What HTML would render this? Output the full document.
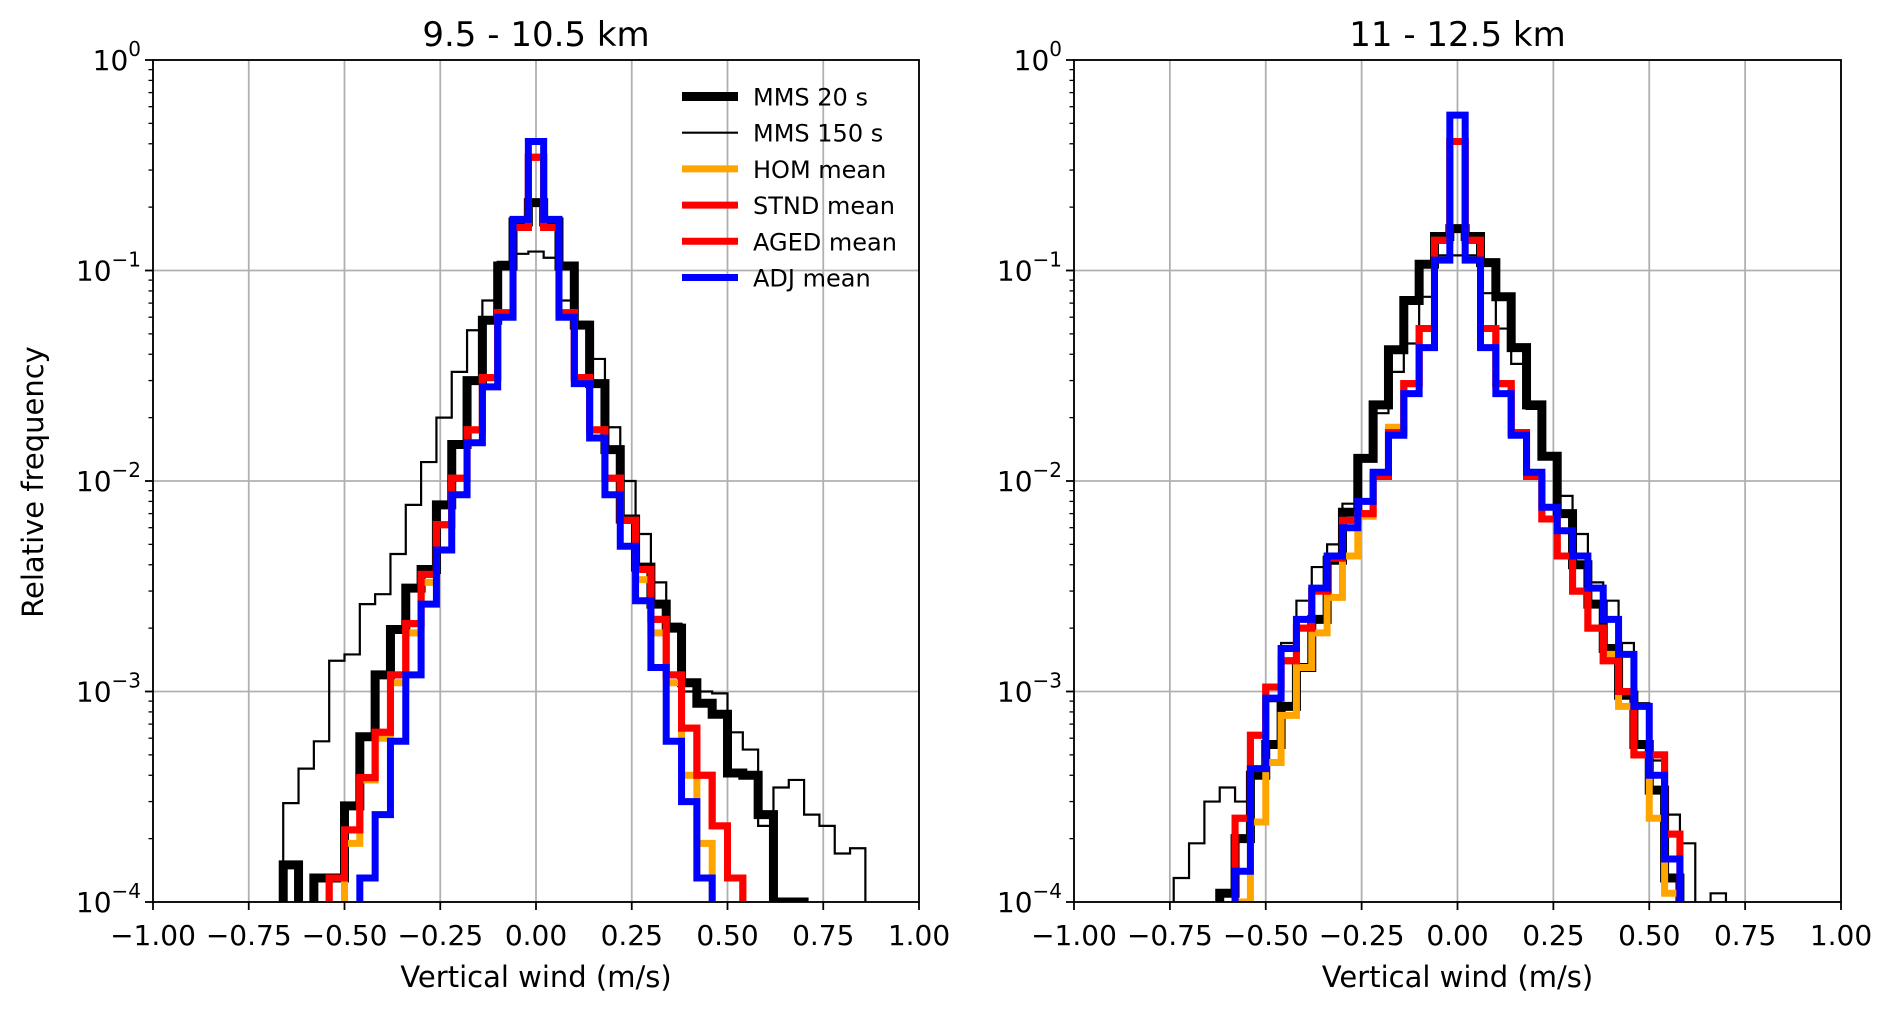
<!DOCTYPE html>
<html><head><meta charset="utf-8">
<style>
html,body{margin:0;padding:0;background:#fff;}
svg{display:block;}
text{font-family:"DejaVu Sans","Liberation Sans",sans-serif;fill:#000;}
</style></head>
<body>
<svg id="fig" width="1892" height="1012" viewBox="0 0 1892 1012" xmlns="http://www.w3.org/2000/svg"></svg>
<script>
// bin offsets k = -22..22, bin width 0.04 centered on 0.04*k
const binWidth = 0.04;
const binIndex = [];
for (let k = -22; k <= 22; k++) binIndex.push(k);
const xTicks = [-1, -0.75, -0.5, -0.25, 0, 0.25, 0.5, 0.75, 1];
const yTickExps = [0, -1, -2, -3, -4];
const seriesNames = ["MMS 20 s","MMS 150 s","HOM mean","STND mean","AGED mean","ADJ mean"];
const panelTitles = ["9.5 - 10.5 km","11 - 12.5 km"];

function sparse(obj){ return binIndex.map(k => (obj[k]!==undefined ? obj[k] : 0)); }

// ---------- Left panel (9.5 - 10.5 km) ----------
const L_mms20 = sparse({"-16":0.00015,"-14":0.00013,"-13":0.00013,"-12":0.000286,"-11":0.00061,"-10":0.0012,"-9":0.00197,"-8":0.0031,"-7":0.0038,"-6":0.0077,"-5":0.0149,"-4":0.030,"-3":0.058,"-2":0.105,"-1":0.17,"0":0.21,"1":0.17,"2":0.105,"3":0.055,"4":0.029,"5":0.0141,"6":0.0066,"7":0.0039,"8":0.0026,"9":0.002,"10":0.0011,"11":0.00088,"12":0.00078,"13":0.00041,"14":0.0004,"15":0.00026,"16":0.0001,"17":0.0001});
const L_mms150 = sparse({"-16":0.000295,"-15":0.00043,"-14":0.00058,"-13":0.0014,"-12":0.0015,"-11":0.0026,"-10":0.0029,"-9":0.0045,"-8":0.0077,"-7":0.0123,"-6":0.020,"-5":0.033,"-4":0.052,"-3":0.072,"-2":0.11,"-1":0.12,"0":0.123,"1":0.115,"2":0.072,"3":0.057,"4":0.038,"5":0.018,"6":0.01,"7":0.0056,"8":0.0033,"9":0.0021,"10":0.001,"11":0.001,"12":0.00098,"13":0.00064,"14":0.00053,"15":0.00023,"16":0.00035,"17":0.00038,"18":0.00026,"19":0.00023,"20":0.00017,"21":0.00018});
const L_hom = sparse({"-12":0.00019,"-11":0.00038,"-10":0.0006,"-9":0.0011,"-8":0.0019,"-7":0.0033,"-6":0.0062,"-5":0.0103,"-4":0.0175,"-3":0.031,"-2":0.063,"-1":0.16,"0":0.345,"1":0.16,"2":0.063,"3":0.031,"4":0.0175,"5":0.0103,"6":0.0065,"7":0.0034,"8":0.0019,"9":0.0011,"10":0.0004,"11":0.00019});
const L_stnd = sparse({"-13":0.00013,"-12":0.00022,"-11":0.00039,"-10":0.00064,"-9":0.0012,"-8":0.0021,"-7":0.0036,"-6":0.0062,"-5":0.0103,"-4":0.0175,"-3":0.031,"-2":0.063,"-1":0.16,"0":0.345,"1":0.16,"2":0.063,"3":0.031,"4":0.0175,"5":0.0103,"6":0.0065,"7":0.0038,"8":0.0022,"9":0.0012,"10":0.00067,"11":0.0004,"12":0.00023,"13":0.00013});
const L_aged = sparse({"-13":0.00013,"-12":0.00022,"-11":0.00039,"-10":0.00064,"-9":0.0012,"-8":0.0021,"-7":0.0036,"-6":0.0062,"-5":0.0103,"-4":0.0175,"-3":0.031,"-2":0.063,"-1":0.16,"0":0.345,"1":0.16,"2":0.063,"3":0.031,"4":0.0175,"5":0.0103,"6":0.0065,"7":0.0038,"8":0.0022,"9":0.0012,"10":0.00067,"11":0.0004,"12":0.00023,"13":0.00013});
const L_adj = sparse({"-11":0.00013,"-10":0.00026,"-9":0.00058,"-8":0.0012,"-7":0.0026,"-6":0.0047,"-5":0.0086,"-4":0.0152,"-3":0.028,"-2":0.06,"-1":0.175,"0":0.41,"1":0.175,"2":0.06,"3":0.029,"4":0.016,"5":0.0086,"6":0.0049,"7":0.0027,"8":0.0013,"9":0.00058,"10":0.0003,"11":0.00013});

// ---------- Right panel (11 - 12.5 km) ----------
const R_mms20 = sparse({"-15":0.00011,"-14":0.0002,"-13":0.0004,"-12":0.00056,"-11":0.00085,"-10":0.0013,"-9":0.0022,"-8":0.0042,"-7":0.0071,"-6":0.0128,"-5":0.023,"-4":0.042,"-3":0.072,"-2":0.107,"-1":0.145,"0":0.158,"1":0.145,"2":0.109,"3":0.075,"4":0.043,"5":0.023,"6":0.0131,"7":0.007,"8":0.004,"9":0.0026,"10":0.0016,"11":0.00096,"12":0.00056,"13":0.00034,"14":0.00013});
const R_mms150 = sparse({"-18":0.00013,"-17":0.00019,"-16":0.0003,"-15":0.00035,"-14":0.0003,"-13":0.00043,"-12":0.0009,"-11":0.0017,"-10":0.0027,"-9":0.0039,"-8":0.005,"-7":0.0078,"-6":0.0128,"-5":0.021,"-4":0.033,"-3":0.045,"-2":0.075,"-1":0.118,"0":0.118,"1":0.118,"2":0.078,"3":0.053,"4":0.036,"5":0.022,"6":0.0133,"7":0.0085,"8":0.0056,"9":0.0033,"10":0.0027,"11":0.0017,"12":0.00088,"13":0.00047,"14":0.00026,"15":0.00019,"17":0.00011});
const R_hom = sparse({"-14":0.0001,"-13":0.00024,"-12":0.00046,"-11":0.00077,"-10":0.0013,"-9":0.0019,"-8":0.0028,"-7":0.0044,"-6":0.0068,"-5":0.0106,"-4":0.018,"-3":0.029,"-2":0.053,"-1":0.139,"0":0.41,"1":0.139,"2":0.053,"3":0.029,"4":0.017,"5":0.0105,"6":0.0066,"7":0.0044,"8":0.003,"9":0.002,"10":0.0015,"11":0.00085,"12":0.0005,"13":0.00025,"14":0.00011});
const R_stnd = sparse({"-14":0.00025,"-13":0.00062,"-12":0.00105,"-11":0.0014,"-10":0.002,"-9":0.003,"-8":0.0043,"-7":0.0065,"-6":0.007,"-5":0.0105,"-4":0.017,"-3":0.029,"-2":0.053,"-1":0.139,"0":0.41,"1":0.139,"2":0.053,"3":0.029,"4":0.017,"5":0.0105,"6":0.0066,"7":0.0044,"8":0.003,"9":0.002,"10":0.0014,"11":0.001,"12":0.0005,"13":0.0005,"14":0.00021});
const R_aged = sparse({"-14":0.00025,"-13":0.00062,"-12":0.00105,"-11":0.0014,"-10":0.002,"-9":0.003,"-8":0.0043,"-7":0.0065,"-6":0.007,"-5":0.0105,"-4":0.017,"-3":0.029,"-2":0.053,"-1":0.139,"0":0.41,"1":0.139,"2":0.053,"3":0.029,"4":0.017,"5":0.0105,"6":0.0066,"7":0.0044,"8":0.003,"9":0.002,"10":0.0014,"11":0.001,"12":0.0005,"13":0.0005,"14":0.00021});
const R_adj = sparse({"-14":0.00014,"-13":0.00043,"-12":0.00093,"-11":0.0016,"-10":0.0022,"-9":0.0031,"-8":0.0044,"-7":0.006,"-6":0.008,"-5":0.011,"-4":0.0165,"-3":0.026,"-2":0.043,"-1":0.112,"0":0.547,"1":0.112,"2":0.043,"3":0.026,"4":0.0165,"5":0.011,"6":0.0075,"7":0.0058,"8":0.0044,"9":0.0031,"10":0.0022,"11":0.0015,"12":0.00085,"13":0.0004,"14":0.00016});

const styles = [
  {color:"#000000", w:9},
  {color:"#000000", w:2.2},
  {color:"#ffa500", w:7},
  {color:"#ff0000", w:7},
  {color:"#ff0000", w:7},
  {color:"#0000ff", w:7}
];
const panels = [
  {x0:153, x1:919, y0:60, y1:902, title:panelTitles[0], series:[L_mms20,L_mms150,L_hom,L_stnd,L_aged,L_adj], legend:true, ylabel:true},
  {x0:1074, x1:1841, y0:60, y1:902, title:panelTitles[1], series:[R_mms20,R_mms150,R_hom,R_stnd,R_aged,R_adj], legend:false, ylabel:false}
];

const NS = "http://www.w3.org/2000/svg";
const svg = document.getElementById("fig");
function mk(tag, attrs, parent){
  const e = document.createElementNS(NS, tag);
  for (const a in attrs) e.setAttribute(a, attrs[a]);
  (parent||svg).appendChild(e);
  return e;
}
function fmt(v){ const s = v.toFixed(2); return v < 0 ? "\u2212" + s.slice(1) : s; }

panels.forEach((p, pi) => {
  const g = mk("g", {});
  
  
  const xS = v => p.x0 + (v + 1) / 2 * (p.x1 - p.x0);
  const yS = v => v <= 0 ? p.y1 + 30 : p.y0 + (-Math.log10(v)) / 4 * (p.y1 - p.y0);

  xTicks.forEach(t => {
    const l = mk("line", {x1:xS(t), x2:xS(t), y1:p.y0, y2:p.y1, stroke:"#b0b0b0", "stroke-width":1.8}, g);
    
    
  });
  yTickExps.forEach(e => {
    const y = yS(Math.pow(10, e));
    const l = mk("line", {x1:p.x0, x2:p.x1, y1:y, y2:y, stroke:"#b0b0b0", "stroke-width":1.8}, g);
    
    
  });

  const cid = "clip" + pi;
  const cp = mk("clipPath", {id:cid}, g);
  mk("rect", {x:p.x0, y:p.y0, width:p.x1 - p.x0, height:p.y1 - p.y0}, cp);
  const plot = mk("g", {"clip-path":"url(#" + cid + ")"}, g);

  p.series.forEach((vals, si) => {
    let d = "";
    binIndex.forEach((k, i) => {
      const xl = xS(k * binWidth - binWidth / 2), xr = xS(k * binWidth + binWidth / 2);
      const y = yS(vals[i]);
      d += (i === 0 ? "M" : "L") + xl.toFixed(2) + " " + y.toFixed(2) + " L" + xr.toFixed(2) + " " + y.toFixed(2) + " ";
    });
    const path = mk("path", {d:d, fill:"none", stroke:styles[si].color, "stroke-width":styles[si].w, "stroke-linejoin":"miter"}, plot);
    
    
  });

  const fr = mk("rect", {x:p.x0, y:p.y0, width:p.x1 - p.x0, height:p.y1 - p.y0, fill:"none", stroke:"#000", "stroke-width":1.8}, g);
  
  

  xTicks.forEach(t => {
    const x = xS(t);
    mk("line", {x1:x, x2:x, y1:p.y1, y2:p.y1 + 8, stroke:"#000", "stroke-width":1.8}, g);
    const tx = mk("text", {x:x, y:945, "font-size":28, "text-anchor":"middle"}, g);
    tx.textContent = fmt(t);
    
    
  });
  yTickExps.forEach(e => {
    const y = yS(Math.pow(10, e));
    mk("line", {x1:p.x0 - 8, x2:p.x0, y1:y, y2:y, stroke:"#000", "stroke-width":1.8}, g);
    const tx = mk("text", {x:p.x0 - 12, y:y + 10, "font-size":28, "text-anchor":"end"}, g);
    const t1 = mk("tspan", {}, tx); t1.textContent = "10";
    const t2 = mk("tspan", {"font-size":20, dy:-14}, tx); t2.textContent = e === 0 ? "0" : "\u2212" + (-e);
    
    
    if (e > -4) {
      for (let m = 2; m <= 9; m++) {
        const yy = yS(m * Math.pow(10, e - 1));
        mk("line", {x1:p.x0 - 4.5, x2:p.x0, y1:yy, y2:yy, stroke:"#000", "stroke-width":1.3}, g);
      }
    }
  });

  const ti = mk("text", {x:(p.x0 + p.x1) / 2, y:46, "font-size":34, "text-anchor":"middle"}, g);
  ti.textContent = p.title;
  
  

  const xl = mk("text", {x:(p.x0 + p.x1) / 2, y:987, "font-size":29, "text-anchor":"middle"}, g);
  xl.textContent = "Vertical wind (m/s)";
  
  

  if (p.ylabel) {
    const yl = mk("text", {x:0, y:0, "font-size":29, "text-anchor":"middle", transform:"translate(43 482) rotate(-90)"}, g);
    yl.textContent = "Relative frequency";
    
    
  }

  if (p.legend) {
    const lg = mk("g", {}, g);
    
    
    seriesNames.forEach((n, si) => {
      const y = 96.5 + si * 36.2;
      const entry = mk("g", {}, lg);
      
      
      mk("line", {x1:682, x2:738, y1:y, y2:y, stroke:styles[si].color, "stroke-width":styles[si].w}, entry);
      const t = mk("text", {x:753, y:y + 9, "font-size":24}, entry);
      t.textContent = n;
    });
  }
});
</script>
</body></html>
